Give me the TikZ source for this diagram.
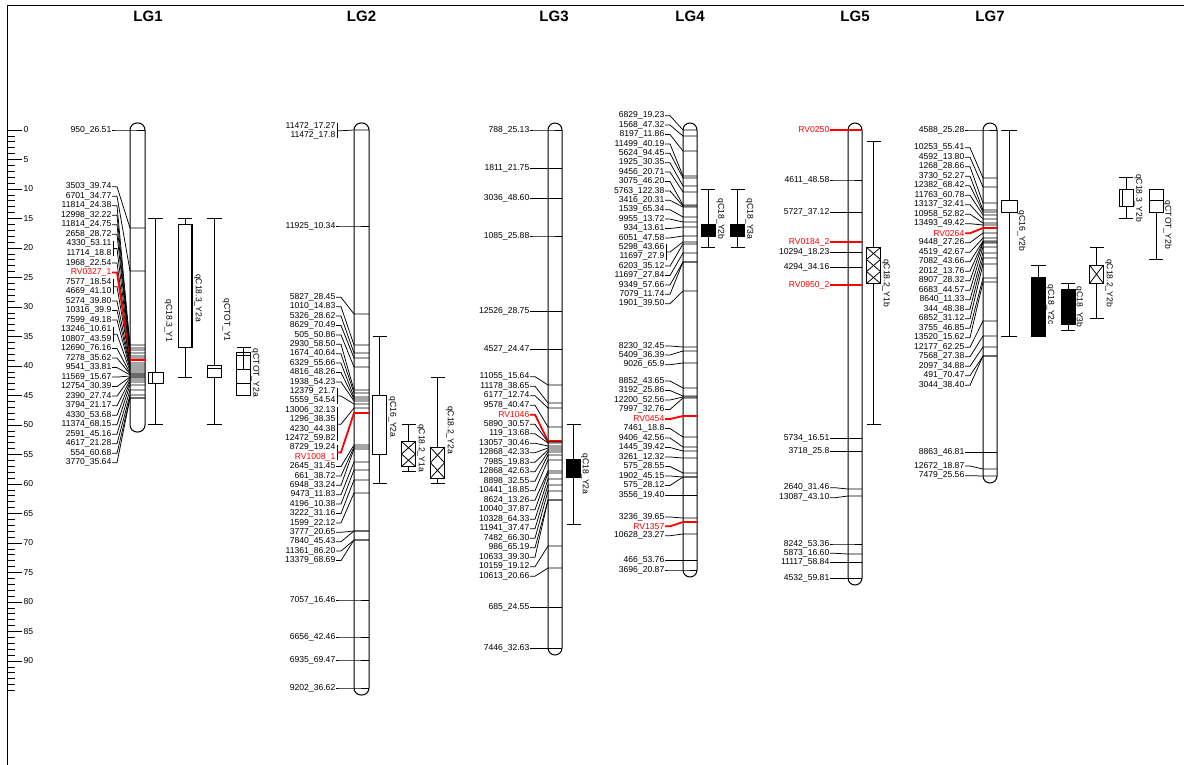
\documentclass[tikz,border=0pt]{standalone}
\usepackage{fontspec}
\setmainfont{Liberation Sans}
\usetikzlibrary{calc}
\tikzset{
  chrom/.style={draw=black, line width=1pt, fill=white, rounded corners=7pt},
  mlab/.style={anchor=east, inner sep=0.5pt, font=\fontsize{8.6}{9}\selectfont},
  lk/.style={draw=black, line width=0.75pt},
  lr/.style={draw=red, line width=1.8pt},
  ln/.style={draw=none},
  lgtitle/.style={font=\fontsize{15}{16}\selectfont\bfseries},
  scalelab/.style={anchor=west, inner sep=0.5pt, font=\fontsize{8.6}{9}\selectfont},
  qline/.style={draw=black, line width=0.8pt},
  qwhite/.style={draw=black, line width=0.8pt, fill=white},
  qblack/.style={draw=black, line width=0.8pt, fill=black},
  qlab/.style={rotate=-90, inner sep=0.5pt, font=\fontsize{8.6}{9}\selectfont},
}
\begin{document}
\begin{tikzpicture}[x=1pt, y=-1pt]
\useasboundingbox (0,0) rectangle (1184,765);
% frame and cM scale
\draw[line width=0.9pt] (7,765) -- (7,5) -- (1184,5);
\foreach \c in {0,...,95} \draw[line width=0.7pt] (7,{130+5.9*\c}) -- ++(8,0);
\foreach \c in {0,5,...,90} {
  \draw[line width=0.7pt] (7,{130+5.9*\c}) -- ++(15,0);
  \node[scalelab] (cm\c) at (23,{130+5.9*\c}) {\c};
}

% titles
\node[lgtitle] (t1) at (148,16) {LG1};
\node[lgtitle] (t2) at (361.5,16) {LG2};
\node[lgtitle] (t3) at (554,16) {LG3};
\node[lgtitle] (t4) at (690,16) {LG4};
\node[lgtitle] (t5) at (855,16) {LG5};
\node[lgtitle] (t7) at (990,16) {LG7};

% LG1
\draw[chrom] (130,123) rectangle (145,432);
\foreach \t/\yl/\yb/\s [count=\i] in {
  950\_26.51/130/130/lk, 3503\_39.74/186.7/228/lk, 6701\_34.77/196.2/271/lk,
  11814\_24.38/205.7/345/lk, 12998\_32.22/215.3/348/lk, 11814\_24.75/224.8/350/lk,
  2658\_28.72/234.3/353/lk, 4330\_53.11/243.8/0/ln, 11714\_18.8/253.3/0/ln,
  1968\_22.54/262.9/358/lk, \textcolor{red}{RV0327\_1}/272.4/360/lr,
  7577\_18.54/281.9/0/ln, 4669\_41.10/291.4/0/ln, 5274\_39.80/301/365/lk,
  10316\_39.9/310.5/367/lk, 7599\_49.18/320/369/lk, 13246\_10.61/329.5/0/ln,
  10807\_43.59/339/0/ln, 12690\_76.16/348.5/373/lk, 7278\_35.62/358.1/374/lk,
  9541\_33.81/367.6/375/lk, 11569\_15.67/377.1/376/lk, 12754\_30.39/386.6/377/lk,
  2390\_27.74/396.1/378/lk, 3794\_21.17/405.7/380/lk, 4330\_53.68/415.2/382/lk,
  11374\_68.15/424.7/385/lk, 2591\_45.16/434.2/390/lk, 4617\_21.28/443.7/395/lk,
  554\_60.68/453.3/398/lk, 3770\_35.64/462.8/398/lk} {
  \node[mlab] (ga\i) at (112,\yl) {\t};
  \draw[\s] (ga\i.east) -- ++(5,0) -- (130,\yb) -- (145,\yb);
}
\foreach \p/\q/\yb/\s in {8/9/356/lk, 12/13/363/lk, 17/18/371/lk} {
  \draw[lk] ([shift={(1,-3)}]ga\p.east) -- ([shift={(1,3)}]ga\q.east);
  \draw[\s] ($(ga\p.east)!.5!(ga\q.east)+(1,0)$) -- ++(4,0) -- (130,\yb) -- (145,\yb);
}
% LG1 QTL
\draw[qline] (148,218) -- (163,218) (155.5,218) -- (155.5,424) (148,424) -- (163,424);
\draw[qwhite] (148,372) rectangle (163,383);
\draw[qline] (152,372) -- (152,383);
\node[qlab] (qa1) at (168.5,321) {qC18.3\_Y1};
\draw[qline] (178,218) -- (192,218) (185,218) -- (185,377) (178,377) -- (192,377);
\draw[qwhite] (178,224) rectangle (192,347);
\draw[line width=1.4pt] (191.5,224) -- (191.5,347);
\node[qlab] (qa2) at (198,298) {qC18.3\_Y2a};
\draw[qline] (207,218) -- (222,218) (214.5,218) -- (214.5,424) (207,424) -- (222,424);
\draw[qwhite] (207.5,365) rectangle (221.5,377);
\draw[qline] (207.5,368) -- (221.5,368);
\node[qlab] (qa3) at (226.5,320) {qCTOT\_Y1};
\draw[qline] (236.5,347) -- (250.5,347) (243.5,347) -- (243.5,355.5);
\draw[qwhite] (236.5,352.5) rectangle (250.5,395);
\draw[qline] (236.5,355.5) -- (250.5,355.5) (236.5,369) -- (250.5,369) (236.5,383) -- (250.5,383)
  (243.5,352.5) -- (243.5,369);
\node[qlab] (qa4) at (255.5,373) {qCTOT\_Y2a};

% LG2
\draw[chrom] (354,123) rectangle (369,695);
\foreach \t/\yl/\yb/\s [count=\i] in {
  11472\_17.27/126/0/ln, 11472\_17.8/135.5/0/ln, 11925\_10.34/226/226/lk,
  5827\_28.45/297.3/314/lk, 1010\_14.83/306.7/345/lk, 5326\_28.62/316.1/353/lk,
  8629\_70.49/325.5/358/lk, 505\_50.86/334.9/367/lk, 2930\_58.50/344.3/390/lk,
  1674\_40.64/353.7/393/lk, 6329\_55.66/363.1/397/lk, 4816\_48.26/372.5/399/lk,
  1938\_54.23/381.9/401/lk, 12379\_21.7/391.3/0/ln, 5559\_54.54/400.7/0/ln,
  13006\_32.13/410.1/0/ln, 1296\_38.35/419.5/0/ln, 4230\_44.38/428.9/0/ln,
  12472\_59.82/438.3/0/ln, 8729\_19.24/447.7/0/ln, \textcolor{red}{RV1008\_1}/457.1/0/ln,
  2645\_31.45/466.5/445/lk, 661\_38.72/475.9/447/lk, 6948\_33.24/485.3/449/lk,
  9473\_11.83/494.7/462/lk, 4196\_10.38/504.1/470/lk, 3222\_31.16/513.5/480/lk,
  1599\_22.12/522.9/493/lk, 3777\_20.65/532.3/531/lk, 7840\_45.43/541.7/531/lk,
  11361\_86.20/551.1/540/lk, 13379\_68.69/560.5/540/lk, 7057\_16.46/600/600/lk,
  6656\_42.46/637/637/lk, 6935\_69.47/660/660/lk, 9202\_36.62/688/688/lk} {
  \node[mlab] (gb\i) at (336,\yl) {\t};
  \draw[\s] (gb\i.east) -- ++(5,0) -- (354,\yb) -- (369,\yb);
}
\foreach \p/\q/\yb/\s in {1/2/130/lk, 14/15/404/lk, 16/19/408/lk, 20/21/413/lr} {
  \draw[lk] ([shift={(1,-3)}]gb\p.east) -- ([shift={(1,3)}]gb\q.east);
  \draw[\s] ($(gb\p.east)!.5!(gb\q.east)+(1,0)$) -- ++(4,0) -- (354,\yb) -- (369,\yb);
}
% LG2 QTL
\draw[qline] (372.5,336) -- (386.5,336) (379.5,336) -- (379.5,483) (372.5,483) -- (386.5,483);
\draw[qwhite] (372.5,395) rectangle (386.5,454);
\node[qlab] (qb1) at (392.5,417) {qC16\_Y2a};
\draw[qline] (401.5,424.5) -- (415.5,424.5) (408.5,424.5) -- (408.5,471.5) (401.5,471.5) -- (415.5,471.5);
\draw[qwhite] (401.5,441.5) rectangle (415.5,466.5);
\foreach \k in {0,1}
  \draw[qline] (401.5,{441.5+12.5*\k}) -- (415.5,{441.5+12.5*(\k+1)})
    (415.5,{441.5+12.5*\k}) -- (401.5,{441.5+12.5*(\k+1)});
\node[qlab] (qb2) at (421,448) {qC18.2\_Y1a};
\draw[qline] (430.5,377.5) -- (444.5,377.5) (437.5,377.5) -- (437.5,483) (430.5,483) -- (444.5,483);
\draw[qwhite] (430.5,447.5) rectangle (444.5,478);
\foreach \k in {0,1}
  \draw[qline] (430.5,{447.5+15.25*\k}) -- (444.5,{447.5+15.25*(\k+1)})
    (444.5,{447.5+15.25*\k}) -- (430.5,{447.5+15.25*(\k+1)});
\node[qlab] (qb3) at (450,430) {qC18.2\_Y2a};

% LG3
\draw[chrom] (548,123) rectangle (562,655);
\foreach \t/\yl/\yb/\s [count=\i] in {
  788\_25.13/130/130/lk, 1811\_21.75/168.3/168.3/lk, 3036\_48.60/198.3/198.3/lk,
  1085\_25.88/236/236/lk, 12526\_28.75/311.7/311.7/lk, 4527\_24.47/349.3/349.3/lk,
  11055\_15.64/376.7/385/lk, 11178\_38.65/386.2/403/lk, 6177\_12.74/395.7/408/lk,
  9578\_40.47/405.2/427/lk, \textcolor{red}{RV1046}/414.7/441/lr,
  5890\_30.57/424.2/442/lk, 119\_13.68/433.7/443/lk, 13057\_30.46/443.2/446/lk,
  12868\_42.33/452.7/448/lk, 7985\_19.83/462.2/450/lk, 12868\_42.63/471.7/452/lk,
  8898\_32.55/481.2/455/lk, 10441\_18.85/490.7/460/lk, 8624\_13.26/500.2/471/lk,
  10040\_37.87/509.7/473/lk, 10328\_64.33/519.2/479/lk, 11941\_37.47/528.7/485/lk,
  7482\_66.30/538.2/491/lk, 986\_65.19/547.7/500/lk, 10633\_39.30/557.2/500/lk,
  10159\_19.12/566.7/546/lk, 10613\_20.66/576.2/568/lk, 685\_24.55/607.3/607.3/lk,
  7446\_32.63/648.3/648.3/lk} {
  \node[mlab] (gc\i) at (530,\yl) {\t};
  \draw[\s] (gc\i.east) -- ++(5,0) -- (548,\yb) -- (562,\yb);
}
% LG3 QTL
\draw[qline] (566.5,424.5) -- (580.5,424.5) (573.5,424.5) -- (573.5,524) (566.5,524) -- (580.5,524);
\draw[qblack] (566.5,459.5) rectangle (580.5,477.5);
\node[qlab] (qc1) at (585,474) {qC18\_Y2a};

% LG4
\draw[chrom] (683,123) rectangle (697,577);
\foreach \t/\yl/\yb/\s [count=\i] in {
  6829\_19.23/115.7/130/lk, 1568\_47.32/125.1/136/lk, 8197\_11.86/134.5/151/lk,
  11499\_40.19/143.9/176/lk, 5624\_94.45/153.3/178/lk, 1925\_30.35/162.7/186/lk,
  9456\_20.71/172.1/192/lk, 3075\_46.20/181.5/205/lk, 5763\_122.38/190.9/206/lk,
  3416\_20.31/200.3/207/lk, 1539\_65.34/209.7/217/lk, 9955\_13.72/219.1/222/lk,
  934\_13.61/228.5/227/lk, 6051\_47.58/237.9/236/lk, 5298\_43.66/247.3/0/ln,
  11697\_27.9/256.7/0/ln, 6203\_35.12/266.1/244/lk, 11697\_27.84/275.5/253/lk,
  9349\_57.66/284.9/262/lk, 7079\_11.74/294.3/262/lk, 1901\_39.50/303.7/291/lk,
  8230\_32.45/346/347/lk, 5409\_36.39/355/351/lk, 9026\_65.9/364.7/363/lk,
  8852\_43.65/381/388/lk, 3192\_25.86/390.5/396/lk, 12200\_52.56/400/397/lk,
  7997\_32.76/409.5/398/lk, \textcolor{red}{RV0454}/419/416/lr, 7461\_18.8/428.5/437/lk,
  9406\_42.56/438/447/lk, 1445\_39.42/447.5/451/lk, 3261\_12.32/457/458/lk,
  575\_28.55/466.5/473/lk, 1902\_45.15/476/477/lk, 575\_28.12/485.5/477/lk,
  3556\_19.40/495.7/495.7/lk, 3236\_39.65/517/518/lk, \textcolor{red}{RV1357}/526.3/522/lr,
  10628\_23.27/535.7/534/lk, 466\_53.76/560.7/560.7/lk, 3696\_20.87/570/570/lk} {
  \node[mlab] (gd\i) at (665,\yl) {\t};
  \draw[\s] (gd\i.east) -- ++(5,0) -- (683,\yb) -- (697,\yb);
}
\foreach \p/\q/\yb/\s in {15/16/242/lk} {
  \draw[lk] ([shift={(1,-3)}]gd\p.east) -- ([shift={(1,3)}]gd\q.east);
  \draw[\s] ($(gd\p.east)!.5!(gd\q.east)+(1,0)$) -- ++(4,0) -- (683,\yb) -- (697,\yb);
}
% LG4 QTL
\draw[qline] (701,189) -- (715,189) (708,189) -- (708,247.5) (701,247.5) -- (715,247.5);
\draw[qblack] (701,224) rectangle (715,236);
\node[qlab] (qd1) at (720.5,219) {qC18\_Y2b};
\draw[qline] (730.5,189) -- (744.5,189) (737.5,189) -- (737.5,247.5) (730.5,247.5) -- (744.5,247.5);
\draw[qblack] (730.5,224) rectangle (744.5,236);
\node[qlab] (qd2) at (749.5,219) {qC18\_Y3a};

% LG5
\draw[chrom] (848,123) rectangle (862,585);
\foreach \t/\yl/\yb/\s [count=\i] in {
  \textcolor{red}{RV0250}/130/130/lr, 4611\_48.58/180/180/lk, 5727\_37.12/212.7/212.7/lk,
  \textcolor{red}{RV0184\_2}/242.3/242.3/lr, 10294\_18.23/252.7/252.7/lk,
  4294\_34.16/267.3/267.3/lk, \textcolor{red}{RV0950\_2}/285/285/lr,
  5734\_16.51/438.3/438.3/lk, 3718\_25.8/451.7/451.7/lk, 2640\_31.46/487.7/489/lk,
  13087\_43.10/497.7/496/lk, 8242\_53.36/544/544/lk, 5873\_16.60/553.3/554/lk,
  11117\_58.84/562.7/562.7/lk, 4532\_59.81/578.3/578.3/lk} {
  \node[mlab] (ge\i) at (830,\yl) {\t};
  \draw[\s] (ge\i.east) -- ++(5,0) -- (848,\yb) -- (862,\yb);
}
% LG5 QTL
\draw[qline] (866.5,141.5) -- (880.5,141.5) (873.5,141.5) -- (873.5,424) (866.5,424) -- (880.5,424);
\draw[qwhite] (866.5,247.5) rectangle (880.5,283.5);
\foreach \k in {0,1,2}
  \draw[qline] (866.5,{247.5+12*\k}) -- (880.5,{247.5+12*(\k+1)})
    (880.5,{247.5+12*\k}) -- (866.5,{247.5+12*(\k+1)});
\node[qlab] (qe1) at (886,283) {qC18.2\_Y1b};

% LG7
\draw[chrom] (983,123) rectangle (997,483);
\foreach \t/\yl/\yb/\s [count=\i] in {
  4588\_25.28/130/130/lk, 10253\_55.41/147.7/178/lk, 4592\_13.80/157.2/187/lk,
  1268\_28.66/166.7/203/lk, 3730\_52.27/176.2/210/lk, 12382\_68.42/185.7/212/lk,
  11763\_60.78/195.2/215/lk, 13137\_32.41/204.7/219/lk, 10958\_52.82/214.2/223/lk,
  13493\_49.42/223.7/225/lk, \textcolor{red}{RV0264}/233.2/228/lr,
  9448\_27.26/242.7/233/lk, 4519\_42.67/252.2/238/lk, 7082\_43.66/261.7/241/lk,
  2012\_13.76/271.2/242/lk, 8907\_28.32/280.7/243/lk, 6683\_44.57/290.2/247/lk,
  8640\_11.33/299.7/253/lk, 344\_48.38/309.2/258/lk, 6852\_31.12/318.7/264/lk,
  3755\_46.85/328.2/278/lk, 13520\_15.62/337.7/282/lk, 12177\_62.25/347.2/321/lk,
  7568\_27.38/356.7/336/lk, 2097\_34.88/366.2/347/lk, 491\_70.47/375.7/356/lk,
  3044\_38.40/385.2/356/lk, 8863\_46.81/452.7/452.7/lk, 12672\_18.87/466/469/lk,
  7479\_25.56/475.7/476/lk} {
  \node[mlab] (gf\i) at (965,\yl) {\t};
  \draw[\s] (gf\i.east) -- ++(5,0) -- (983,\yb) -- (997,\yb);
}
% LG7 QTL
\draw[qline] (1001,130) -- (1017,130) (1009,130) -- (1009,336) (1001,336) -- (1017,336);
\draw[qwhite] (1001,200.5) rectangle (1017,212.5);
\node[qlab] (qf1) at (1021.5,231) {qC16\_Y2b};
\draw[qline] (1031,265.5) -- (1045.5,265.5) (1038,265.5) -- (1038,277.5);
\draw[qblack] (1031,277.5) rectangle (1045.5,336.5);
\node[qlab] (qf2) at (1050.5,305) {qC18\_Y2c};
\draw[qline] (1061,283.5) -- (1075,283.5) (1068,283.5) -- (1068,330) (1061,330) -- (1075,330);
\draw[qblack] (1061,289) rectangle (1075,324.5);
\node[qlab] (qf3) at (1079,307) {qC18\_Y3b};
\draw[qline] (1089.5,247.5) -- (1103.5,247.5) (1096.5,247.5) -- (1096.5,318.5) (1089.5,318.5) -- (1103.5,318.5);
\draw[qwhite] (1089.5,265) rectangle (1103.5,283.5);
\draw[qline] (1089.5,265) -- (1103.5,283.5) (1103.5,265) -- (1089.5,283.5);
\node[qlab] (qf4) at (1109,283) {qC18.2\_Y2b};
\draw[qline] (1119,177.5) -- (1133,177.5) (1126,177.5) -- (1126,218.5) (1119,218.5) -- (1133,218.5);
\draw[qwhite] (1119,189.5) rectangle (1133,206.5);
\draw[qline] (1122.5,189.5) -- (1122.5,206.5);
\node[qlab] (qf5) at (1138.5,198) {qC18.3\_Y2b};
\draw[qline] (1156,212.5) -- (1156,259.5) (1149,259.5) -- (1163,259.5);
\draw[qwhite] (1149,189) rectangle (1163,212.5);
\draw[qline] (1149,200.5) -- (1163,200.5);
\node[qlab] (qf6) at (1167.5,225) {qCTOT\_Y2b};
\end{tikzpicture}
\end{document}
